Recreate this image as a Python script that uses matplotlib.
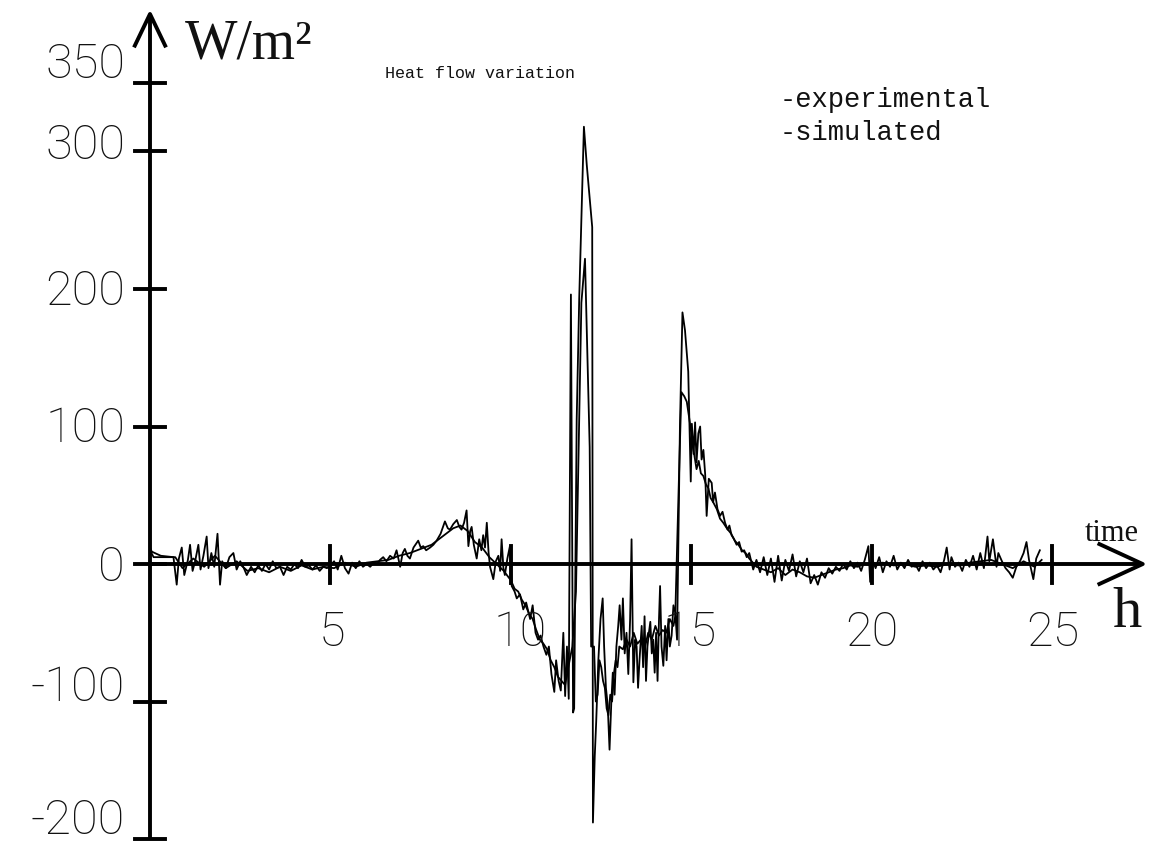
#!/usr/bin/env python3
# -*- coding: utf-8 -*-
"""
Heat flow variation: experimental vs simulated (hand-drawn style axes).
"""

import matplotlib
matplotlib.use("Agg")
import matplotlib.pyplot as plt


# experimental heat flow (h, W/m2)
exp_time = [
    0.00, 0.05, 0.30, 0.65, 0.74, 0.80, 0.88, 0.95, 1.05, 1.11, 1.18, 1.25,
    1.34, 1.40, 1.48, 1.57, 1.62, 1.70, 1.78, 1.87, 1.94, 2.00, 2.10, 2.20,
    2.31, 2.40, 2.50, 2.60, 2.68, 2.80, 2.90, 3.00, 3.10, 3.20, 3.30, 3.40,
    3.50, 3.60, 3.70, 3.80, 3.90, 4.00, 4.10, 4.20, 4.30, 4.40, 4.50, 4.60,
    4.70, 4.80, 4.90, 5.00, 5.10, 5.20, 5.30, 5.40, 5.50, 5.60, 5.70, 5.80,
    5.90, 6.00, 6.10, 6.20, 6.30, 6.37, 6.46, 6.55, 6.65, 6.75, 6.83, 6.93,
    7.00, 7.06, 7.13, 7.20, 7.30, 7.43, 7.50, 7.57, 7.65, 7.76, 7.85, 7.94,
    8.05, 8.17, 8.25, 8.31, 8.40, 8.50, 8.57, 8.63, 8.70, 8.77, 8.82, 8.87,
    8.91, 8.97, 9.05, 9.12, 9.18, 9.23, 9.28, 9.33, 9.38, 9.42, 9.51, 9.58,
    9.65, 9.70, 9.74, 9.79, 9.83, 9.90, 9.97, 10.02, 10.10, 10.16, 10.25,
    10.34, 10.42, 10.53, 10.60, 10.68, 10.75, 10.82, 10.90, 10.98, 11.05,
    11.12, 11.20, 11.25, 11.32, 11.38, 11.45, 11.50, 11.55, 11.60, 11.66,
    11.72, 11.75, 11.82, 11.89, 12.02, 12.10, 12.25,
    12.27, 12.32, 12.36, 12.42, 12.48, 12.54, 12.58, 12.63, 12.68, 12.73,
    12.78, 12.82, 12.87, 12.92, 12.97, 13.01, 13.06, 13.10, 13.15, 13.20,
    13.25, 13.30, 13.34, 13.39, 13.44, 13.48, 13.52, 13.56, 13.62, 13.66,
    13.70, 13.74, 13.78, 13.82, 13.86, 13.90, 13.94, 13.98, 14.02, 14.06,
    14.10, 14.13, 14.17, 14.22, 14.27, 14.31, 14.36, 14.40, 14.45, 14.50,
    14.55, 14.60,
    14.68, 14.75, 14.82, 14.91, 14.98, 15.01, 15.06, 15.10, 15.14, 15.19,
    15.24, 15.28, 15.33, 15.38, 15.42, 15.48, 15.56, 15.60, 15.65, 15.72,
    15.79, 15.86, 15.93, 16.00, 16.05, 16.11, 16.18, 16.25, 16.32, 16.39,
    16.46, 16.53, 16.60, 16.71, 16.80, 16.90, 17.00, 17.10, 17.20, 17.30,
    17.40, 17.50, 17.60, 17.70, 17.80, 17.90, 18.00, 18.10, 18.20, 18.30,
    18.40, 18.50, 18.60, 18.70, 18.80, 18.90, 19.00, 19.10, 19.20, 19.30,
    19.40, 19.50, 19.60, 19.70, 19.80, 19.90, 19.95, 20.00, 20.10, 20.20,
    20.30, 20.40, 20.50, 20.60, 20.70, 20.80, 20.90, 21.00, 21.10, 21.20,
    21.30, 21.40, 21.50, 21.60, 21.70, 21.80, 21.90, 22.00, 22.07, 22.15,
    22.20, 22.30, 22.40, 22.50, 22.60, 22.70, 22.80, 22.90, 23.00, 23.10,
    23.20, 23.25, 23.35, 23.45, 23.50, 23.60, 23.70, 23.80, 23.90, 24.00,
    24.10, 24.20, 24.28, 24.35, 24.47, 24.55, 24.65,
]
exp_flux = [
    12, 9, 6, 5, -15, 4, 12, -8, 3, 14, -5, 2,
    14, -4, 6, 20, -3, 8, -2, 22, -15, 2, -3, 5,
    8, -4, 2, -3, -8, -2, -6, -1, -5, 0, -4, 2,
    -3, -2, -8, -2, -4, 0, -3, 3, -2, -1, -4, -1,
    -5, -2, -3, -1, 2, -4, 6, -3, -7, 1, -3, 2,
    -2, 0, -2, 1, 0, 3, 5, 2, 6, 4, 10, -2,
    8, 11, 6, 4, 12, 17, 12, 13, 10, 12, 14, 17,
    22, 31, 26, 25, 29, 32, 27, 25, 30, 39, 13, 24,
    27, 14, 4, 18, 10, 21, 12, 30, 8, -2, -11, 2,
    6, -5, 18, -3, -8, 4, 13, -16, -20, -25, -22,
    -33, -28, -40, -30, -50, -55, -52, -60, -66, -60,
    -80, -93, -70, -85, -92, -50, -96, -60, -98, 196,
    -108, -105, 105, 193, 318, 290, 245,
    -188, -140, -115, -70, -40, -25, -60, -90, -103, -135,
    -100, -79, -95, -60, -45, -30, -55, -25, -65, -50,
    -80, -40, 18, -86, -55, -60, -90, -70, -45, -75,
    -38, -85, -60, -50, -42, -65, -55, -79, -50, -85,
    -40, -16, -60, -74, -45, -70, -40, -60, -52, -30,
    -35, -55,
    100, 183, 170, 140, 60, 102, 80, 103, 74, 95,
    100, 76, 83, 65, 35, 62, 59, 45, 52, 40,
    35, 38, 30, 25, 28, 21, 18, 14, 16, 9,
    10, 5, 8, -4, 3, -6, 5, -8, 4, -13,
    6, -12, 3, -5, 7, -9, 2, -6, 4, -14,
    -8, -15, -6, -10, -3, -7, -2, -5, 0, -4,
    2, -3, 1, -5, 3, 13, -13, 4, -3, 5,
    -6, 2, -2, 6, -4, 1, -3, 3, -2, 0,
    -5, 2, -3, 1, -4, -1, -6, 3, 12, -4,
    5, -2, 1, -5, 3, -2, 6, -4, 8, -3,
    20, 2, 18, -2, 8, 2, -3, -6, -10, -2,
    2, 8, 16, 3, -11, 4, 10,
]

# simulated heat flow (h, W/m2)
sim_time = [
    0.00, 0.10, 0.70, 0.90, 1.20, 1.50, 1.80, 2.10, 2.40, 2.70, 3.00, 3.30,
    3.60, 3.90, 4.20, 4.50, 4.80, 5.10, 5.40, 5.70, 6.00, 6.30, 6.60, 6.90,
    7.20, 7.50, 7.80, 8.10, 8.40, 8.60, 8.80, 9.00, 9.20, 9.40, 9.60, 9.80,
    10.00, 10.10, 10.20, 10.30, 10.40, 10.50, 10.60, 10.70, 10.80, 10.90,
    11.00, 11.10, 11.20, 11.30, 11.40, 11.50, 11.55, 11.70,
    11.80, 11.95, 12.05, 12.18, 12.22,
    12.30, 12.35, 12.40, 12.45, 12.50, 12.55, 12.60, 12.65, 12.70, 12.75,
    12.80, 12.85, 12.90, 12.95, 13.00, 13.10, 13.20, 13.30, 13.40, 13.50,
    13.60, 13.70, 13.80, 13.90, 14.00, 14.10, 14.20, 14.30, 14.40, 14.50,
    14.55, 14.65, 14.72, 14.80, 14.87, 14.96, 15.05, 15.14, 15.20, 15.26,
    15.33, 15.40, 15.47, 15.53, 15.60, 15.70, 15.79, 15.88, 15.98, 16.10,
    16.20, 16.30, 16.40, 16.50, 16.60, 16.80, 17.00, 17.20, 17.40, 17.60,
    17.80, 18.00, 18.20, 18.40, 18.60, 18.80, 19.00, 19.20, 19.40, 19.60,
    19.80, 20.00, 20.30, 20.60, 20.90, 21.20, 21.50, 21.80, 22.10, 22.40,
    22.70, 23.00, 23.30, 23.60, 23.90, 24.20, 24.50, 24.70,
]
sim_flux = [
    10, 5, 5, -3, 4, -2, 6, -3, 2, -5, -3, -6,
    -2, -5, -1, -4, -2, -3, 1, -2, 1, 2, 3, 6,
    8, 11, 14, 20, 26, 28, 24, 16, 12, 5, 0, -5,
    -12, -18, -20, -26, -30, -36, -40, -48, -55, -58,
    -62, -70, -75, -82, -85, -88, -80, -60,
    -20, 190, 222, 85, -60,
    -60, -100, -95, -70, -75, -85, -90, -105, -110, -95,
    -100, -80, -70, -75, -60, -62, -55, -60, -50, -58,
    -55, -62, -50, -55, -45, -52, -48, -50, -40, -45,
    -38, 60, 125, 122, 118, 102, 84, 69, 75, 66,
    64, 58, 55, 48, 45, 40, 33, 30, 26, 22,
    17, 14, 10, 8, 4, -2, -4, -6, -3, -8,
    -4, -6, -9, -10, -8, -6, -4, -3, -1, -2,
    0, -1, 1, -1, 0, -2, -1, -2, 0, -1,
    1, 2, 3, 0, -3, 2, -2, 3,
]

# axis ticks and labels
x_ticks = [5, 10, 15, 20, 25]
x_labels = ["5", "10", "15", "20", "25"]
x_label_shift = [0.04, 0.25, -0.04, 0.0, 0.0]
y_ticks = [350, 300, 200, 100, 0, -100, -200]
y_labels = ["350", "300", "200", "100", "0", "-100", "-200"]
y_label_shift = [14, 5, -1, -1, -2, 11, 14]


def main() -> None:
    assert len(exp_time) == len(exp_flux)
    assert len(sim_time) == len(sim_flux)

    fig = plt.figure(figsize=(11.55, 8.45), dpi=100)
    ax = fig.add_axes([0, 0, 1, 1])
    ax.set_xlim(-4.155, 27.84)
    ax.set_ylim(-203.6, 410.9)
    ax.axis("off")

    lw_axis = 2.8
    # axes with open arrow heads
    ax.plot([0, 0], [-200, 400], color="black", lw=lw_axis, solid_capstyle="butt")
    ax.plot([-0.42, 0, 0.42], [377, 400, 377], color="black", lw=lw_axis)
    ax.plot([0, 27.5], [0, 0], color="black", lw=lw_axis, solid_capstyle="butt")
    ax.plot([26.3, 27.5, 26.3], [14.5, 0, -14.5], color="black", lw=lw_axis)

    for t in y_ticks:
        ax.plot([-0.42, 0.42], [t, t], color="black", lw=lw_axis)
    for t in x_ticks:
        ax.plot([t, t], [13, -14], color="black", lw=lw_axis)

    # data
    ax.plot(exp_time, exp_flux, color="black", lw=1.3)
    ax.plot(sim_time, sim_flux, color="black", lw=1.3)

    digits = dict(family=["Roboto", "DejaVu Sans"], weight="light", fontsize=35,
                  color="#111111")
    for t, lab, dy in zip(y_ticks, y_labels, y_label_shift):
        ax.text(-0.69, t + dy, lab, ha="right", va="center", **digits)
    for t, lab, dx in zip(x_ticks, x_labels, x_label_shift):
        ax.text(t + dx, -49.5, lab, ha="center", va="center", **digits)

    serif = ["Liberation Serif", "DejaVu Serif"]
    ax.text(0.97, 368.7, "W/m²", ha="left", va="baseline", family=serif,
            fontsize=40, color="#111111")
    ax.text(25.9, 23, "time", ha="left", va="center", family=serif,
            fontsize=22, color="#111111")
    ax.text(27.06, -45, "h", ha="center", va="baseline", family=serif,
            fontsize=42, color="#111111")

    mono = ["Liberation Mono", "DejaVu Sans Mono"]
    ax.text(6.51, 357.8, "Heat flow variation", ha="left", va="center",
            family=mono, fontsize=12, color="#111111")
    ax.text(17.45, 338, "-experimental", ha="left", va="center",
            family=mono, fontsize=19.5, color="#111111")
    ax.text(17.45, 314, "-simulated", ha="left", va="center",
            family=mono, fontsize=19.5, color="#111111")

    fig.savefig("out.png", dpi=100, facecolor="white")
    plt.close(fig)


if __name__ == "__main__":
    main()
